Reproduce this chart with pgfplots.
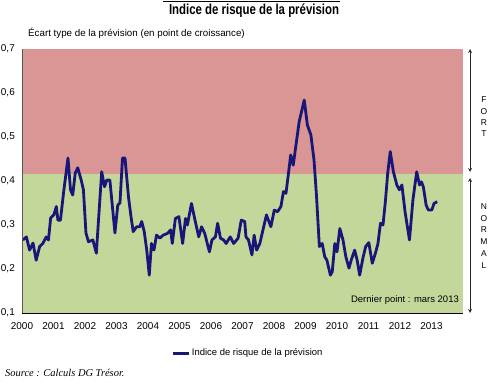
\documentclass[border=0pt]{standalone}
\usepackage{fontspec}
\setmainfont{Liberation Sans}
\newfontfamily\srcfont{Liberation Serif}
\usepackage{graphicx}
\usepackage{pgfplots}
\pgfplotsset{compat=1.18}
\definecolor{fortc}{RGB}{217,150,148}
\definecolor{normc}{RGB}{196,215,155}
\definecolor{linec}{RGB}{24,22,120}
\begin{document}
\begin{tikzpicture}[x=1bp,y=1bp]
\path[use as bounding box] (0,0) rectangle (500,382);
\begin{axis}[
  at={(22bp,69bp)}, anchor=south west,
  scale only axis, width=441bp, height=264bp,
  xmin=2000, xmax=2014, ymin=0.1, ymax=0.7,
  axis x line=bottom, axis y line=left,
  axis line style={-},
  x axis line style={black, line width=0.9bp},
  y axis line style={black!65, line width=0.9bp},
  axis on top,
  major tick length=0pt,
  xtick={2000,...,2013},
  xticklabels={2000,2001,2002,2003,2004,2005,2006,2007,2008,2009,2010,2011,2012,2013},
  ytick={0.1,0.2,0.3,0.4,0.5,0.6,0.7},
  /pgf/number format/assume math mode=true,
  y tick label style={/pgf/number format/fixed, /pgf/number format/fixed zerofill, /pgf/number format/precision=1, /pgf/number format/use comma, inner sep=0pt, xshift=-7bp},
  tick label style={font=\fontsize{10}{12}\selectfont},
  xticklabel style={inner sep=0pt, anchor=north, yshift=-9bp},
  legend style={draw=none, fill=none, at={(0.512,-0.152)}, anchor=center,
    font=\fontsize{9.5}{11}\selectfont, inner sep=0pt},
  legend image code/.code={\draw[#1, line width=2.8bp] (0bp,0bp) -- (16bp,0bp);},
]
\fill[fortc] (axis cs:2000,0.415) rectangle (axis cs:2014,0.7);
\fill[normc] (axis cs:2000,0.1) rectangle (axis cs:2014,0.415);
\addplot[linec, line width=2.8bp, line join=round] table {
x y
2000.03 0.266
2000.14 0.273
2000.24 0.243
2000.35 0.259
2000.45 0.220
2000.56 0.251
2000.66 0.258
2000.77 0.273
2000.84 0.266
2000.91 0.316
2001.01 0.323
2001.09 0.342
2001.14 0.311
2001.22 0.311
2001.33 0.380
2001.46 0.452
2001.54 0.380
2001.61 0.368
2001.69 0.418
2001.77 0.430
2001.88 0.402
2001.95 0.380
2002.03 0.282
2002.11 0.262
2002.25 0.266
2002.36 0.236
2002.53 0.421
2002.62 0.387
2002.69 0.402
2002.79 0.402
2002.87 0.342
2002.95 0.282
2003.04 0.345
2003.11 0.350
2003.19 0.452
2003.27 0.452
2003.38 0.364
2003.46 0.319
2003.53 0.285
2003.64 0.296
2003.74 0.296
2003.80 0.308
2003.88 0.285
2003.96 0.243
2004.04 0.186
2004.11 0.258
2004.19 0.243
2004.27 0.277
2004.38 0.270
2004.48 0.277
2004.62 0.281
2004.72 0.289
2004.77 0.258
2004.87 0.315
2004.98 0.319
2005.10 0.258
2005.19 0.315
2005.25 0.300
2005.38 0.349
2005.48 0.315
2005.61 0.273
2005.70 0.296
2005.80 0.281
2005.95 0.239
2006.03 0.266
2006.14 0.273
2006.21 0.304
2006.30 0.270
2006.40 0.266
2006.48 0.258
2006.61 0.273
2006.72 0.258
2006.86 0.270
2006.96 0.311
2007.07 0.308
2007.11 0.273
2007.19 0.266
2007.30 0.232
2007.37 0.277
2007.45 0.243
2007.55 0.258
2007.66 0.292
2007.76 0.323
2007.90 0.296
2008.01 0.334
2008.11 0.330
2008.22 0.342
2008.30 0.376
2008.38 0.372
2008.46 0.418
2008.53 0.459
2008.61 0.436
2008.69 0.478
2008.80 0.535
2008.96 0.584
2009.06 0.527
2009.17 0.505
2009.27 0.448
2009.35 0.365
2009.44 0.251
2009.53 0.258
2009.61 0.228
2009.68 0.220
2009.79 0.186
2009.85 0.194
2009.93 0.258
2010.00 0.239
2010.09 0.292
2010.19 0.266
2010.28 0.228
2010.38 0.202
2010.45 0.220
2010.56 0.243
2010.64 0.220
2010.72 0.186
2010.82 0.224
2010.91 0.251
2011.01 0.260
2011.12 0.213
2011.22 0.236
2011.30 0.258
2011.38 0.304
2011.46 0.300
2011.54 0.357
2011.61 0.418
2011.69 0.467
2011.79 0.421
2011.90 0.391
2011.98 0.380
2012.06 0.391
2012.16 0.330
2012.30 0.266
2012.41 0.357
2012.53 0.421
2012.62 0.391
2012.68 0.398
2012.74 0.387
2012.83 0.345
2012.90 0.334
2013.01 0.334
2013.08 0.349
2013.18 0.353
};
\addlegendentry{Indice de risque de la prévision}
\end{axis}
% title
\draw[black, line width=0.6bp] (163,380.5) -- (340,380.5);
\node[anchor=base, inner sep=0pt] at (254,368) {\scalebox{0.79}[1]{\fontsize{14.5}{16}\selectfont\bfseries Indice de risque de la prévision}};
\node[anchor=west, inner sep=0pt] at (28,349) {\fontsize{9.8}{11}\selectfont Écart type de la prévision (en point de croissance)};
\node[anchor=east, inner sep=0pt] at (459,82) {\fontsize{9.5}{11}\selectfont Dernier point : mars 2013};
\node[anchor=west, inner sep=0pt] at (5,9) {\srcfont\itshape\fontsize{10.5}{12}\selectfont Source : Calculs DG Trésor.};
% right arrows
\draw[<->, >=stealth, line width=0.8bp, black!85] (470,333) -- (470,210);
\draw[<->, >=stealth, line width=0.8bp, black!85] (470,204) -- (470,69);
\foreach \l/\yy in {F/282,O/270,R/259,T/248}
  \node[inner sep=0pt, font=\fontsize{8.5}{10}\selectfont] at (484,\yy) {\l};
\foreach \l/\yy in {N/175,O/163,R/152,M/140,A/128,L/116}
  \node[inner sep=0pt, font=\fontsize{8.5}{10}\selectfont] at (484,\yy) {\l};
\end{tikzpicture}
\end{document}
